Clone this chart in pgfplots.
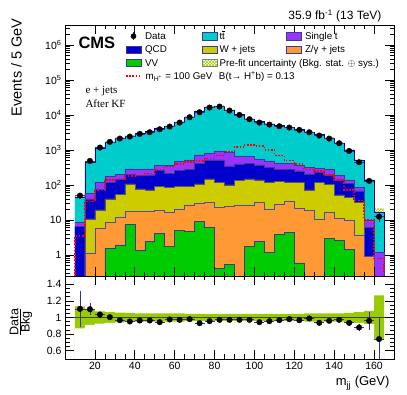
\documentclass[border=0pt]{standalone}
\usepackage{pgfplots}
\pgfplotsset{compat=1.18}
\usepackage{pgfplotstable}
\usetikzlibrary{patterns}
\usepackage{fontspec}
\setmainfont{Liberation Sans}
\newfontfamily\seriffont{Liberation Serif}

\definecolor{cTT}{RGB}{0,204,204}
\definecolor{cST}{RGB}{153,51,255}
\definecolor{cQCD}{RGB}{0,0,204}
\definecolor{cW}{RGB}{204,204,0}
\definecolor{cZ}{RGB}{255,153,51}
\definecolor{cVV}{RGB}{0,204,0}
\definecolor{cUnc}{RGB}{153,204,0}
\definecolor{cEdge}{RGB}{60,60,140}
\definecolor{cErr}{RGB}{50,50,170}

% cumulative top of each stacked layer (bin left edges; row 165 closes the last bin,
% the two last rows close each area below the axis)
% T = total (ttbar top), P = single t top, B = QCD top, Y = W+jets top, O = Z/gamma top, G = VV top
\pgfplotstableread{
x T P B Y O G
10 44.9 8.5 6.5 0.01 0.01 0.01
15 440.6 57.5 39.8 10.7 1.12 0.01
20 1127 117.5 75.9 19.5 5.62 0.01
25 1687 177.8 120.2 39.8 8.51 1.55
30 2178 199.5 147.9 52.5 11.75 1.95
35 2523 288.4 199.5 107.2 18.2 7.59
40 2972 275.4 186.2 77.6 17.8 1.38
45 3319 288.4 195.0 72.4 17.4 2.40
50 4121 354.8 257.0 89.1 18.6 4.17
55 4764 354.8 213.8 85.1 16.2 1.74
60 6194 464.5 257.0 89.1 20.4 5.01
65 8750 517.6 280.5 89.1 25.7 4.65
70 12794 719.5 416.9 107.2 29.3 9.23
75 16982 803.5 517.6 148.3 31.3 6.10
80 17783 895.4 517.6 119.1 23.0 0.41
85 13677 857.0 349.1 100.0 24.5 0.55
90 10280 676.1 398.1 133.0 26.2 0.01
95 7727 645.7 416.9 148.3 26.9 1.73
100 6397 540.8 372.4 139.0 32.0 2.45
105 5534 485.3 319.9 119.1 20.2 1.19
110 4898 416.9 280.5 124.5 28.1 3.94
115 4436 416.9 281.8 119.1 33.4 4.45
120 3846 372.4 251.2 119.1 21.4 0.59
125 3236 319.9 206.1 71.9 18.6 0.01
130 2748 299.2 230.1 119.1 10.4 0.01
135 2198 280.5 193.2 104.7 16.9 2.99
140 1592 184.9 139.0 51.8 11.2 2.63
145 997.7 139.0 111.7 44.5 10.0 1.45
150 505.8 83.9 67.6 32.0 3.56 0.01
155 135.5 10.0 6.03 0.89 0.89 0.01
160 16.8 1.19 0.01 0.01 0.01 0.01
165 16.8 1.19 0.01 0.01 0.01 0.01
165 0.01 0.01 0.01 0.01 0.01 0.01
10 0.01 0.01 0.01 0.01 0.01 0.01
}\stack

% upper edge of the pre-fit uncertainty band on the total
\pgfplotstableread{
x hi
10 50.7
15 480.3
20 1212
25 1797
30 2309
35 2662
40 3121
45 3485
50 4327
55 5002
60 6504
65 9144
70 13370
75 17746
80 18583
85 14292
90 10743
95 8075
100 6685
105 5783
110 5118
115 4636
120 4019
125 3398
130 2885
135 2308
140 1672
145 1052.6
150 538.7
155 146.3
160 21.3
165 21.3
165 0.01
10 0.01
}\band

% signal m_H+ = 100 GeV (not stacked)
\pgfplotstableread{
x s
10 0.01
10 3.5
15 33.4
20 69
25 139
30 141
35 178
40 186
45 214
50 275
55 339
60 398
65 457
70 490
75 562
80 692
85 891
90 1202
95 1380
100 1288
105 1000
110 692
115 495
120 398
125 275
130 251
135 191
140 139
145 71
150 36
155 10
160 0.8
165 0.8
165 0.01
}\signal

% data
\pgfplotstableread{
x n e
12.5 49.5 7.0
17.5 485 22
22.5 1167 34
27.5 1694 41
32.5 2109 46
37.5 2404 49
42.5 2864 54
47.5 3199 57
52.5 3890 62
57.5 4645 68
62.5 6026 78
67.5 8570 93
72.5 11912 109
77.5 16218 127
82.5 17298 132
87.5 13305 115
92.5 10000 100
97.5 7516 87
102.5 6039 78
107.5 5297 73
112.5 4742 69
117.5 4345 66
122.5 3724 61
127.5 3199 57
132.5 2570 51
137.5 2109 46
142.5 1549 39
147.5 933 31
152.5 445 21
157.5 130 11.4
162.5 12.4 3.5
}\data

% ratio Data/Bkg
\pgfplotstableread{
x r e
12.5 1.104 0.22
17.5 1.100 0.075
22.5 1.036 0.03
27.5 1.004 0.025
32.5 0.968 0.02
37.5 0.952 0.02
42.5 0.964 0.02
47.5 0.964 0.018
52.5 0.944 0.016
57.5 0.976 0.015
62.5 0.972 0.013
67.5 0.980 0.011
72.5 0.932 0.009
77.5 0.956 0.008
82.5 0.972 0.008
87.5 0.972 0.009
92.5 0.972 0.01
97.5 0.972 0.011
102.5 0.944 0.013
107.5 0.956 0.014
112.5 0.968 0.015
117.5 0.980 0.015
122.5 0.968 0.016
127.5 0.988 0.018
132.5 0.936 0.02
137.5 0.960 0.022
142.5 0.972 0.025
147.5 0.936 0.033
152.5 0.880 0.045
157.5 0.960 0.11
162.5 0.740 0.26
}\ratio

% ratio uncertainty band (lo, hi); last two rows close the areas below the axis
\pgfplotstableread{
x lo hi
10 0.87 1.135
15 0.91 1.09
20 0.925 1.075
25 0.935 1.065
30 0.94 1.06
35 0.945 1.055
40 0.95 1.05
45 0.95 1.05
50 0.95 1.05
55 0.95 1.05
60 0.95 1.05
65 0.955 1.045
70 0.955 1.045
75 0.955 1.045
80 0.955 1.045
85 0.955 1.045
90 0.955 1.045
95 0.955 1.045
100 0.955 1.045
105 0.955 1.045
110 0.955 1.045
115 0.955 1.045
120 0.955 1.045
125 0.95 1.05
130 0.95 1.05
135 0.95 1.05
140 0.95 1.05
145 0.945 1.055
150 0.935 1.065
155 0.92 1.08
160 0.735 1.265
165 0.735 1.265
165 0 0
10 0 0
}\rband

\pgfplotsset{
  cmsax/.style={
    scale only axis, width=329pt,
    xmin=5, xmax=170,
    tick align=inside,
    axis on top,
    axis line style={line width=0.8pt},
    every tick/.style={black, line width=0.6pt},
    major tick length=9pt, minor tick length=4.5pt,
    xtick={20,40,...,160}, minor x tick num=3,
    tick label style={font=\fontsize{10.5}{12}\selectfont},
    /pgf/number format/assume math mode=true,
  },
  boxleg/.style={legend image code/.code={\draw[##1] (0pt,-3.7pt) rectangle (15pt,3.7pt);}},
  sigleg/.style={legend image code/.code={\draw[##1] (0pt,0pt) -- (15pt,0pt);}},
  dataleg/.style={legend image code/.code={\draw[cErr, line width=0.6pt] (7.5pt,-4pt) -- (7.5pt,4pt);
     \draw[mark repeat=2, mark phase=2, only marks, mark=*, mark size=2.6pt, black] plot coordinates {(0pt,0pt) (7.5pt,0pt) (15pt,0pt)};}},
}
\newcommand{\LT}[2]{\makebox[#1][l]{#2}}
\newcommand{\ttbar}{t\smash{\rlap{\kern0.02em\raisebox{0.78em}{\rule{0.26em}{0.06em}}}}t}

\begin{document}
\begin{tikzpicture}
\useasboundingbox (0pt,0pt) rectangle (407pt,395pt);

\begin{axis}[cmsax,
  at={(65pt,119pt)}, anchor=south west, height=251pt,
  ymode=log, log basis y=10, ymin=0.25, ymax=3.7e6,
  xticklabels={},
  yticklabel={\pgfmathtruncatemacro\ee{round(\tick)}\ifnum\ee=0 1\else\ifnum\ee=1 10\else 10\textsuperscript{\ee}\fi\fi},
  legend columns=3,
  legend cell align=left,
  legend style={draw=none, fill=none, at={(axis description cs:0.1824,0.9827)}, anchor=north west,
    font=\fontsize{9.8}{11}\selectfont, inner sep=0pt, row sep=0pt, column sep=0pt,
    nodes={inner sep=0pt, text height=10.15pt, text depth=3.15pt}},
]
% legend
\addlegendimage{dataleg}
\addlegendentry{\LT{60pt}{\hspace{3.3pt}Data}}
\addlegendimage{boxleg, fill=cTT, draw=cEdge}
\addlegendentry{\LT{69pt}{\hspace{2.3pt}\ttbar}}
\addlegendimage{boxleg, fill=cST, draw=cEdge}
\addlegendentry{\LT{80pt}{\hspace{3.4pt}Single t}}
\addlegendimage{boxleg, fill=cQCD, draw=cEdge}
\addlegendentry{\LT{60pt}{\hspace{3.3pt}QCD}}
\addlegendimage{boxleg, fill=cW, draw=cEdge}
\addlegendentry{\LT{69pt}{\hspace{2.3pt}W + jets}}
\addlegendimage{boxleg, fill=cZ, draw=cEdge}
\addlegendentry{\LT{80pt}{\hspace{3.4pt}Z/γ + jets}}
\addlegendimage{boxleg, fill=cVV, draw=cEdge}
\addlegendentry{\LT{60pt}{\hspace{3.3pt}VV}}
\addlegendimage{boxleg, pattern=crosshatch, pattern color=cUnc, draw=gray}
\addlegendentry{\LT{69pt}{\hspace{2.3pt}Pre-fit uncertainty (Bkg. stat. $\oplus$ sys.)}}
\addlegendimage{empty legend}
\addlegendentry{\LT{80pt}{}}
\addlegendimage{sigleg, red, line width=1.6pt, dash pattern=on 1.6pt off 1.6pt}
\addlegendentry{\LT{0pt}{\makebox[76.7pt][l]{\hspace{3.3pt}m\textsubscript{H\textsuperscript{+}} = 100 GeV}B(t→ H\textsuperscript{+}b) = 0.13}}

% uncertainty band (upper part visible above the stack)
\addplot[const plot mark left, pattern=crosshatch, pattern color=cUnc, draw=none, forget plot] table[x=x,y=hi]{\band};

% stack, drawn from the outermost layer inwards
\addplot[const plot mark left, fill=cTT, draw=blue!70!black, line width=0.5pt, forget plot] table[x=x,y=T]{\stack};
\addplot[const plot mark left, fill=cST, draw=cEdge, line width=0.5pt, forget plot] table[x=x,y=P]{\stack};
\addplot[const plot mark left, fill=cQCD, draw=cEdge, line width=0.5pt, forget plot] table[x=x,y=B]{\stack};
\addplot[const plot mark left, fill=cW, draw=gray!70!black, line width=0.5pt, forget plot] table[x=x,y=Y]{\stack};
\addplot[const plot mark left, fill=cZ, draw=gray!60!blue, line width=0.5pt, forget plot] table[x=x,y=O]{\stack};
\addplot[const plot mark left, fill=cVV, draw=cEdge, line width=0.5pt, forget plot] table[x=x,y=G]{\stack};

% signal
\addplot[const plot mark left, red, line width=1.6pt, dash pattern=on 1.6pt off 1.6pt, forget plot] table[x=x,y=s]{\signal};

% data
\addplot[only marks, mark=*, mark size=2.8pt, black, forget plot,
  error bars/.cd, x dir=both, x fixed=2.5, y dir=both, y explicit,
  error bar style={cErr, line width=0.6pt}, error mark=none]
  table[x=x, y=n, y error=e]{\data};
\end{axis}

\begin{axis}[cmsax,
  at={(65pt,36pt)}, anchor=south west, height=83pt,
  ymin=0.5, ymax=1.5,
  ytick={0.6,0.8,1,1.2,1.4}, minor y tick num=3,
]
\addplot[const plot mark left, fill=cUnc, draw=none, forget plot] table[x=x,y=hi]{\rband};
\addplot[const plot mark left, fill=white, draw=none, forget plot] table[x=x,y=lo]{\rband};
\addplot[gray!50!black, line width=1pt, forget plot] coordinates {(5,1) (170,1)};
\addplot[only marks, mark=*, mark size=2.8pt, black, forget plot,
  error bars/.cd, x dir=both, x fixed=2.5, y dir=both, y explicit,
  error bar style={cErr, line width=0.7pt}, error mark=none]
  table[x=x, y=r, y error=e]{\ratio};
\end{axis}

% texts
\node[anchor=base east, font=\fontsize{12}{14}\selectfont] at (385pt,375pt) {35.9 fb\textsuperscript{-1} (13 TeV)};
\node[anchor=base west, font=\fontsize{16.5}{18}\selectfont\bfseries] at (75pt,346pt) {CMS};
\node[anchor=base west, font=\fontsize{11}{13}\seriffont] at (82pt,301pt) {e + jets};
\node[anchor=base west, font=\fontsize{11}{13}\seriffont] at (82pt,287pt) {After KF};
\node[rotate=90, anchor=base east, font=\fontsize{14.5}{16}\selectfont] at (21.5pt,380pt) {Events / 5 GeV};
\node[rotate=90, font=\fontsize{12.5}{14}\selectfont] at (21pt,73pt) {$\frac{\mbox{Data}}{\mbox{Bkg}}$};
\node[anchor=base east, font=\fontsize{13}{15}\selectfont] at (393pt,9.3pt) {m\textsubscript{jj} (GeV)};
\end{tikzpicture}
\end{document}
